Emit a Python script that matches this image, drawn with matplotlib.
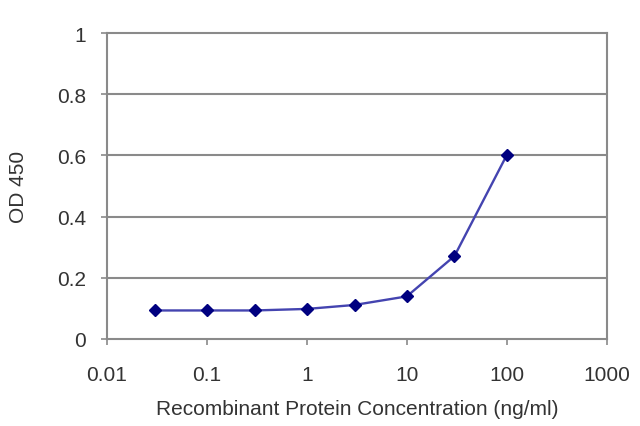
import matplotlib
matplotlib.use("Agg")
import matplotlib.pyplot as plt
from matplotlib.ticker import FixedLocator, FixedFormatter

plt.rcParams["font.family"] = ["Liberation Sans", "DejaVu Sans"]

conc = [0.03, 0.1, 0.3, 1, 3, 10, 30, 100]
od450 = [0.093, 0.093, 0.093, 0.098, 0.111, 0.139, 0.271, 0.601]
x_ticks = [0.01, 0.1, 1, 10, 100, 1000]
x_labels = ["0.01", "0.1", "1", "10", "100", "1000"]
y_ticks = [0, 0.2, 0.4, 0.6, 0.8, 1]
y_labels = ["0", "0.2", "0.4", "0.6", "0.8", "1"]

fig = plt.figure(figsize=(6.4, 4.27), dpi=100)
ax = fig.add_axes([0.167, 0.204, 0.781, 0.716])

grid_col = "#8a8a8a"
text_col = "#333333"
for y in y_ticks[1:-1]:
    ax.axhline(y, color=grid_col, lw=1.5, zorder=1)

ax.plot(conc, od450, color="#4444b0", lw=1.7, zorder=2)
ax.plot(conc, od450, ls="none", marker="D", ms=6.5, color="#000080", zorder=3)

ax.set_xscale("log")
ax.set_xlim(0.01, 1000)
ax.set_ylim(0, 1)
ax.xaxis.set_major_locator(FixedLocator(x_ticks))
ax.xaxis.set_major_formatter(FixedFormatter(x_labels))
ax.xaxis.set_minor_locator(FixedLocator([]))
ax.yaxis.set_major_locator(FixedLocator(y_ticks))
ax.yaxis.set_major_formatter(FixedFormatter(y_labels))

for s in ax.spines.values():
    s.set_color(grid_col)
    s.set_linewidth(1.5)

ax.tick_params(axis="both", colors=grid_col, length=4, width=1.2,
               labelcolor=text_col, labelsize=15)
ax.tick_params(axis="x", pad=15)
ax.tick_params(axis="y", pad=11)

ax.set_xlabel("Recombinant Protein Concentration (ng/ml)", fontsize=15,
              color=text_col)
ax.set_ylabel("OD 450", fontsize=15, color=text_col)
ax.xaxis.label.set_va("center")
ax.yaxis.label.set_va("center")
ax.xaxis.set_label_coords(0.5, -0.229)
ax.yaxis.set_label_coords(-0.176, 0.5)

fig.savefig("out.png", dpi=100)
